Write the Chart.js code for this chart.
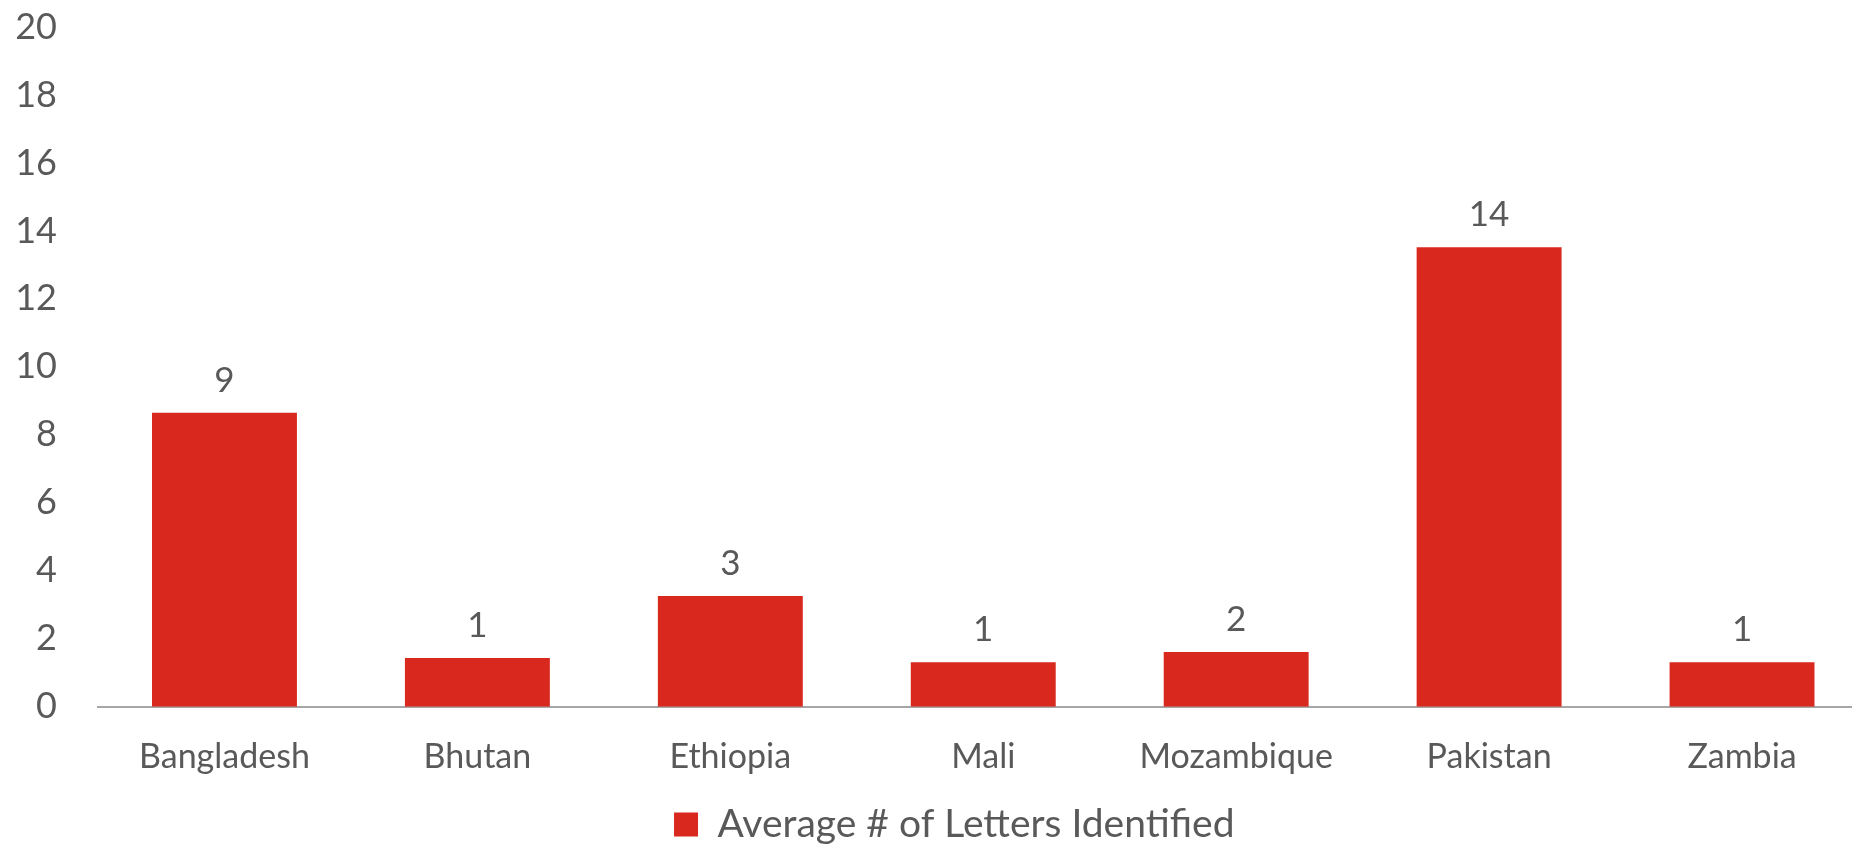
<!DOCTYPE html>
<html>
<head>
<meta charset="utf-8">
<script src="https://cdn.jsdelivr.net/npm/chart.js@4.4.1/dist/chart.umd.min.js"></script>
<style>
html, body { margin: 0; padding: 0; background: #fff; overflow: hidden; }
#wrap { position: relative; width: 1870px; height: 846px; }
</style>
</head>
<body>
<div id="wrap"><canvas id="barChart"></canvas></div>
<script>
const countries = ['Bangladesh', 'Bhutan', 'Ethiopia', 'Mali', 'Mozambique', 'Pakistan', 'Zambia'];
const avgLetters = [8.65, 1.43, 3.26, 1.31, 1.61, 13.52, 1.31];
const seriesName = 'Average # of Letters Identified';
const yTicks = [0, 2, 4, 6, 8, 10, 12, 14, 16, 18, 20];

const grey = '#595959';
const red = '#D9291E';

// labels above each bar, rounded like the original
const barLabels = {
  id: 'barLabels',
  afterDatasetsDraw(chart) {
    const ctx = chart.ctx;
    const meta = chart.getDatasetMeta(0);
    ctx.save();
    ctx.font = '35px Lato';
    ctx.fillStyle = grey;
    ctx.textAlign = 'center';
    ctx.textBaseline = 'alphabetic';
    meta.data.forEach(function(bar, i) {
      ctx.fillText(Math.round(avgLetters[i]), bar.x, bar.y - 21);
    });
    ctx.restore();
  }
};

// legend sits a bit right of centre and lower in the original
const legendNudge = {
  id: 'legendNudge',
  afterLayout(chart) {
    const lg = chart.legend;
    lg.left += 15;
    lg.right += 15;
    lg.top += 10.5;
    lg.bottom += 10.5;
  }
};

new Chart(document.getElementById('barChart'), {
  type: 'bar',
  data: {
    labels: countries,
    datasets: [{
      label: seriesName,
      data: avgLetters,
      backgroundColor: red,
      borderWidth: 0,
      categoryPercentage: 1,
      barPercentage: 0.573
    }]
  },
  options: {
    responsive: true,
    maintainAspectRatio: false,
    animation: false,
    layout: { padding: { left: 10, right: 1.5, top: 27, bottom: 2.5 } },
    plugins: {
      tooltip: { enabled: false },
      legend: {
        position: 'bottom',
        labels: {
          color: grey,
          font: { family: 'Lato', size: 39 },
          boxWidth: 24,
          boxHeight: 24,
          padding: 0
        }
      }
    },
    scales: {
      x: {
        grid: { display: false, drawTicks: false },
        border: { color: '#A6A6A6', width: 2 },
        ticks: {
          color: grey,
          font: { family: 'Lato', size: 34 },
          padding: 30,
          maxRotation: 0
        },
        afterFit(scale) { scale.height -= 13; }
      },
      y: {
        min: 0,
        max: 20,
        afterBuildTicks(scale) {
          scale.ticks = yTicks.map(v => ({ value: v }));
        },
        afterFit(scale) {
          scale.width = 88;
          scale.paddingTop = 0;
          scale.paddingBottom = 0;
        },
        grid: { display: false, drawTicks: false },
        border: { display: false },
        ticks: {
          color: grey,
          font: { family: 'Lato', size: 36 },
          padding: 41
        }
      }
    }
  },
  plugins: [barLabels, legendNudge]
});
</script>
</body>
</html>
